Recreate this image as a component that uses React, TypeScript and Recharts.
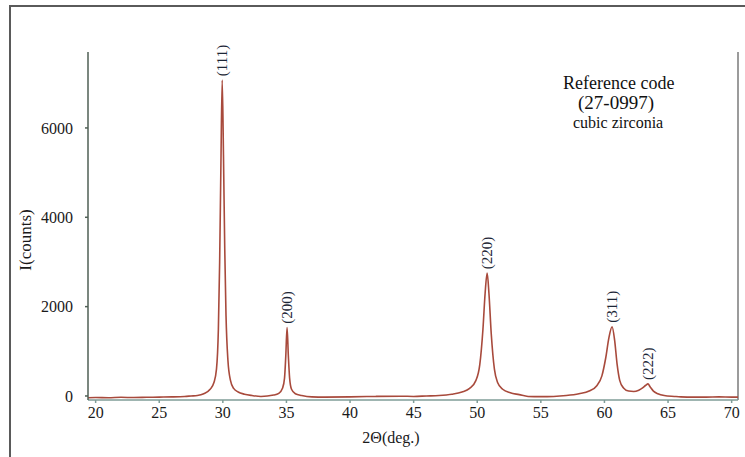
import React from "react";
import {
  ComposedChart,
  Line,
  Scatter,
  XAxis,
  YAxis,
  ReferenceLine,
} from "recharts";

const twoTheta = [
  19.4, 20, 21, 22, 23, 24, 25, 26, 27, 27.5, 28, 28.5, 29.0, 29.3, 29.5, 29.65,
  29.75, 29.85, 29.95, 30.05, 30.15, 30.25, 30.4, 30.6, 30.85, 31.2, 31.7, 32.3,
  33, 34.0, 34.4, 34.7, 34.85, 34.95, 35.05, 35.15, 35.25, 35.4, 35.7, 36.2, 37,
  38, 40, 42, 44, 45, 46, 47, 48.0, 48.8, 49.4, 49.9, 50.2, 50.45, 50.62, 50.78,
  50.92, 51.1, 51.35, 51.6, 52.0, 52.6, 53.3, 54, 55, 56, 57.0, 58.0, 58.8, 59.4,
  59.8, 60.1, 60.35, 60.6, 60.8, 61.0, 61.2, 61.5, 61.9, 62.3, 62.7, 63.0, 63.25,
  63.42, 63.6, 63.85, 64.2, 64.7, 65.5, 66, 67, 68, 69, 70, 70.5,
];
const intensity = [
  -40, -35, -40, -30, -35, -30, -25, -20, -10, 0, 10, 50, 150, 300, 600, 1500,
  3000, 5200, 7070, 5400, 3300, 1800, 800, 350, 170, 90, 40, 10,
  -10, 20, 60, 180, 400, 900, 1530, 900, 400, 150, 50, 10, -20,
  -25, -20, -10, -5, -10, 0, 10, 40, 90, 170, 350, 700, 1500, 2300, 2750,
  2300, 1400, 600, 300, 150, 70, 30, -10, -15, -10, 10, 50, 110, 230,
  450, 850, 1300, 1550, 1250, 700, 350, 180, 110, 100, 130, 180, 240,
  270, 200, 110, 50, 10, -10, -20, -25, -25, -20, -25, -25,
];

// Indexed reflections
const peakPos = [29.95, 35.05, 50.78, 60.6, 63.42];
const peakHeight = [7070, 1530, 2750, 1550, 270];
const peakLabels = ["(111)", "(200)", "(220)", "(311)", "(222)"];

const xTicks = [20, 25, 30, 35, 40, 45, 50, 55, 60, 65, 70];
const yTicks = [0, 2000, 4000, 6000];
const X_MIN = 19.4;
const X_MAX = 70.5;
const Y_MIN = -90;
const Y_MAX = 7700;

const lineData = twoTheta.map((t, i) => ({ x: t, y: intensity[i] }));
const peakData = peakPos.map((p, i) => ({ x: p, y: peakHeight[i], label: peakLabels[i] }));

const SERIF = "Liberation Serif, serif";

const PeakLabel = (props: any) => {
  const { cx, cy, payload } = props;
  if (cx == null || cy == null) return null;
  const y = cy - 4;
  return (
    <text
      x={cx}
      y={y}
      transform={`rotate(-90, ${cx}, ${y})`}
      textAnchor="start"
      dominantBaseline="central"
      style={{ fontFamily: SERIF, fontSize: 15 }}
      fill="#1c2636"
    >
      {payload.label}
    </text>
  );
};

const XTick = (props: any) => {
  const { x, y, payload } = props;
  return (
    <text
      x={x}
      y={y}
      dy="0.71em"
      textAnchor="middle"
      style={{ fontFamily: SERIF, fontSize: 16 }}
      fill="#1a1a1a"
    >
      {payload.value}
    </text>
  );
};

const YTick = (props: any) => {
  const { x, y, payload } = props;
  return (
    <text
      x={x}
      y={y}
      dy="0.355em"
      textAnchor="end"
      style={{ fontFamily: SERIF, fontSize: 16 }}
      fill="#1a1a1a"
    >
      {payload.value}
    </text>
  );
};

export default function App() {
  return (
    <div
      style={{
        position: "fixed",
        left: 0,
        top: 0,
        width: 745,
        height: 457,
        overflow: "hidden",
        background: "#ffffff",
        fontFamily: SERIF,
      }}
    >
      <div
        style={{
          position: "absolute",
          left: 9,
          top: 5,
          width: 800,
          height: 500,
          border: "2px solid #5a5a5a",
          boxSizing: "border-box",
        }}
      />
      <div style={{ position: "absolute", left: 0, top: 0 }}>
        <ComposedChart
          width={745}
          height={457}
          margin={{ top: 52, right: 7, bottom: 27, left: 0 }}
        >
          <XAxis
            type="number"
            dataKey="x"
            domain={[X_MIN, X_MAX]}
            ticks={xTicks}
            height={30}
            stroke="#7f9c97"
            strokeWidth={1.5}
            tickSize={3}
            tickMargin={4}
            tick={<XTick />}
          />
          <YAxis
            type="number"
            domain={[Y_MIN, Y_MAX]}
            ticks={yTicks}
            width={88}
            stroke="#4f5f55"
            strokeWidth={1.5}
            tickSize={3}
            tickMargin={12}
            tick={<YTick />}
          />
          <ReferenceLine x={X_MAX} stroke="#7a7a7a" strokeWidth={1.5} />
          <Line
            data={lineData}
            dataKey="y"
            type="monotone"
            stroke="#a84a3c"
            strokeWidth={1.6}
            dot={false}
            isAnimationActive={false}
          />
          <Scatter
            data={peakData}
            dataKey="y"
            shape={PeakLabel}
            isAnimationActive={false}
          />
        </ComposedChart>
      </div>
      <svg
        width={745}
        height={457}
        style={{ position: "absolute", left: 0, top: 0, pointerEvents: "none" }}
      >
        <text
          x={25}
          y={240}
          transform="rotate(-90, 25, 240)"
          textAnchor="middle"
          dominantBaseline="central"
          style={{ fontFamily: SERIF, fontSize: 17 }}
          fill="#1a1a1a"
        >
          I(counts)
        </text>
        <text
          x={391}
          y={443}
          textAnchor="middle"
          style={{ fontFamily: SERIF, fontSize: 16 }}
          fill="#1a1a1a"
        >
          2Θ(deg.)
        </text>
        <text x={563} y={89} style={{ fontFamily: SERIF, fontSize: 18 }} fill="#111">
          Reference code
        </text>
        <text x={578} y={109} style={{ fontFamily: SERIF, fontSize: 19 }} fill="#111">
          (27-0997)
        </text>
        <text x={573} y={128} style={{ fontFamily: SERIF, fontSize: 16 }} fill="#111">
          cubic zirconia
        </text>
      </svg>
    </div>
  );
}
